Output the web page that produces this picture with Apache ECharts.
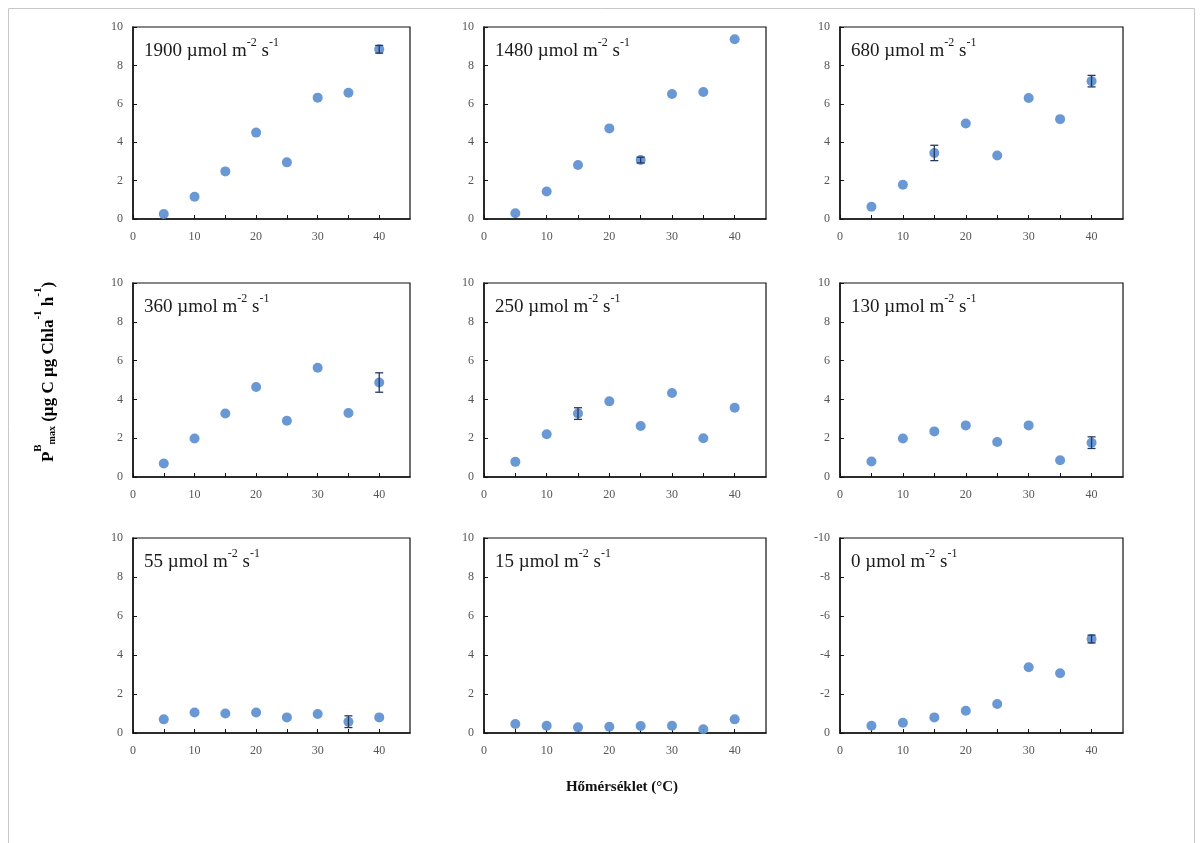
<!DOCTYPE html>
<html><head><meta charset="utf-8">
<script src="https://cdn.jsdelivr.net/npm/echarts@6/dist/echarts.min.js"></script>
<style>html,body{margin:0;padding:0;background:#fff}#c{width:1203px;height:843px}</style>
</head><body><div id="c"></div>
<script>
const temps = [5, 10, 15, 20, 25, 30, 35, 40];
const irradiances = ['1900', '1480', '680', '360', '250', '130', '55', '15', '0'];
const xTickLabels = [0, 10, 20, 30, 40];
const yTickLabels = [0, 2, 4, 6, 8, 10];

const p1900 = [0.26, 1.16, 2.48, 4.5, 2.95, 6.32, 6.58, 8.84];
const p1480 = [0.3, 1.43, 2.81, 4.72, 3.07, 6.51, 6.61, 9.36];
const p680 = [0.64, 1.78, 3.44, 4.97, 3.31, 6.3, 5.2, 7.18];
const p360 = [0.7, 1.98, 3.27, 4.64, 2.9, 5.63, 3.3, 4.87];
const p250 = [0.78, 2.2, 3.27, 3.9, 2.63, 4.33, 2.0, 3.57];
const p130 = [0.8, 1.98, 2.35, 2.66, 1.8, 2.66, 0.86, 1.77];
const p55 = [0.7, 1.05, 1.0, 1.05, 0.8, 0.97, 0.58, 0.8];
const p15 = [0.46, 0.37, 0.29, 0.32, 0.36, 0.37, 0.19, 0.7];
const p0 = [-0.37, -0.53, -0.8, -1.14, -1.49, -3.37, -3.06, -4.82];

const e1900 = [0, 0, 0, 0, 0, 0, 0, 0.2];
const e1480 = [0, 0, 0, 0, 0.15, 0, 0, 0];
const e680 = [0, 0, 0.4, 0, 0, 0, 0, 0.3];
const e360 = [0, 0, 0, 0, 0, 0, 0, 0.5];
const e250 = [0, 0, 0.3, 0, 0, 0, 0, 0];
const e130 = [0, 0, 0, 0, 0, 0, 0, 0.3];
const e55 = [0, 0, 0, 0, 0, 0, 0.3, 0];
const e15 = [0, 0, 0, 0, 0, 0, 0, 0];
const e0 = [0, 0, 0, 0, 0, 0, 0, 0.2];

const values = [p1900, p1480, p680, p360, p250, p130, p55, p15, p0];
const errors = [e1900, e1480, e680, e360, e250, e130, e55, e15, e0];

const colLeft = [133, 484, 840];
const colWidth = [277, 282, 283];
const rowTop = [27, 283, 538];
const rowHeight = [192, 194, 195];

const markColor = '#6192d2';
const errColor = '#26375e';
const tickFont = {fontFamily: 'Liberation Serif', fontSize: 12, color: '#555'};

const grids = [], xAxes = [], yAxes = [], series = [], titles = [];
for (let i = 0; i < 9; i++) {
  const r = Math.floor(i / 3), c = i % 3;
  const neg = i === 8;
  grids.push({left: colLeft[c], top: rowTop[r], width: colWidth[c], height: rowHeight[r],
    show: true, borderColor: '#111', borderWidth: 1.2, backgroundColor: '#fff'});
  xAxes.push({gridIndex: i, type: 'value', min: 0, max: 45, interval: 5,
    axisLine: {lineStyle: {color: '#111', width: 1.5}},
    axisTick: {inside: true, length: 4, lineStyle: {color: '#111'}},
    splitLine: {show: false},
    axisLabel: Object.assign({margin: 12, showMaxLabel: false,
      formatter: v => xTickLabels.includes(v) ? String(v) : ''}, tickFont)});
  yAxes.push({gridIndex: i, type: 'value', min: neg ? -10 : 0, max: neg ? 0 : 10, interval: 2,
    inverse: neg,
    axisLine: {show: true, lineStyle: {color: '#111', width: 1.5}},
    axisTick: {inside: true, length: 4, lineStyle: {color: '#111'}},
    splitLine: {show: false},
    axisLabel: Object.assign({margin: 10,
      formatter: v => (neg ? yTickLabels.map(t => -t) : yTickLabels).includes(v) ? String(v) : ''}, tickFont)});
  const vals = values[i], errs = errors[i];
  series.push({type: 'custom', xAxisIndex: i, yAxisIndex: i, z: 3,
    data: temps.map((t, k) => [t, vals[k] - errs[k], vals[k] + errs[k], errs[k]]),
    renderItem: (params, api) => {
      if (!api.value(3)) return null;
      const lo = api.coord([api.value(0), api.value(1)]);
      const hi = api.coord([api.value(0), api.value(2)]);
      const w = 4;
      return {type: 'group', children: [
        {type: 'line', shape: {x1: lo[0], y1: lo[1], x2: hi[0], y2: hi[1]}, style: {stroke: errColor, lineWidth: 1.3}},
        {type: 'line', shape: {x1: lo[0] - w, y1: lo[1], x2: lo[0] + w, y2: lo[1]}, style: {stroke: errColor, lineWidth: 1.3}},
        {type: 'line', shape: {x1: hi[0] - w, y1: hi[1], x2: hi[0] + w, y2: hi[1]}, style: {stroke: errColor, lineWidth: 1.3}}
      ]};
    }});
  series.push({type: 'scatter', xAxisIndex: i, yAxisIndex: i, z: 2,
    data: temps.map((t, k) => [t, vals[k]]),
    symbol: 'circle', symbolSize: 10, itemStyle: {color: markColor, opacity: 0.95}});
  titles.push({left: colLeft[c] + 6, top: rowTop[r] + 5,
    text: '{n|' + irradiances[i] + ' µmol m}{s|-2}{n| s}{s|-1}',
    textStyle: {fontWeight: 'normal', rich: {
      n: {fontFamily: 'Liberation Serif', fontSize: 19, fontWeight: 'normal', color: '#1a1a1a', lineHeight: 24, verticalAlign: 'bottom'},
      s: {fontFamily: 'Liberation Serif', fontSize: 12, fontWeight: 'normal', color: '#1a1a1a', lineHeight: 24, verticalAlign: 'top', padding: [0, 0, 8, 0]}
    }}});
}

const chart = echarts.init(document.getElementById('c'), null, {renderer: 'canvas'});
chart.setOption({
  animation: false,
  backgroundColor: '#fff',
  title: titles,
  grid: grids, xAxis: xAxes, yAxis: yAxes, series: series,
  graphic: [
    {type: 'rect', shape: {x: 8.5, y: 8.5, width: 1186, height: 860}, style: {fill: 'none', stroke: '#c8c8c8', lineWidth: 1}, z: -10},
    {type: 'text', x: 622, y: 787,
      style: {text: 'Hőmérséklet (°C)', fontFamily: 'Liberation Serif', fontSize: 15, fontWeight: 'bold', fill: '#111', align: 'center', verticalAlign: 'middle'}},
    {type: 'text', x: 45, y: 372, rotation: Math.PI / 2,
      style: {text: '{b|P}{sb|B}{sm|max}{b| (µg C µg Chla}{sp|-1}{b| h}{sp|-1}{b|)}',
        align: 'center', verticalAlign: 'middle',
        rich: {
          b: {fontFamily: 'Liberation Serif', fontSize: 17, fontWeight: 'bold', color: '#111', lineHeight: 24, verticalAlign: 'bottom'},
          sb: {fontFamily: 'Liberation Serif', fontSize: 11, fontWeight: 'bold', color: '#111', lineHeight: 24, verticalAlign: 'top', padding: [0, 0, 6, 0]},
          sm: {fontFamily: 'Liberation Serif', fontSize: 10, fontWeight: 'bold', color: '#111', lineHeight: 24, verticalAlign: 'bottom'},
          sp: {fontFamily: 'Liberation Serif', fontSize: 11, fontWeight: 'bold', color: '#111', lineHeight: 24, verticalAlign: 'top', padding: [0, 0, 6, 0]}
        }}}
  ]
});
</script></body></html>
